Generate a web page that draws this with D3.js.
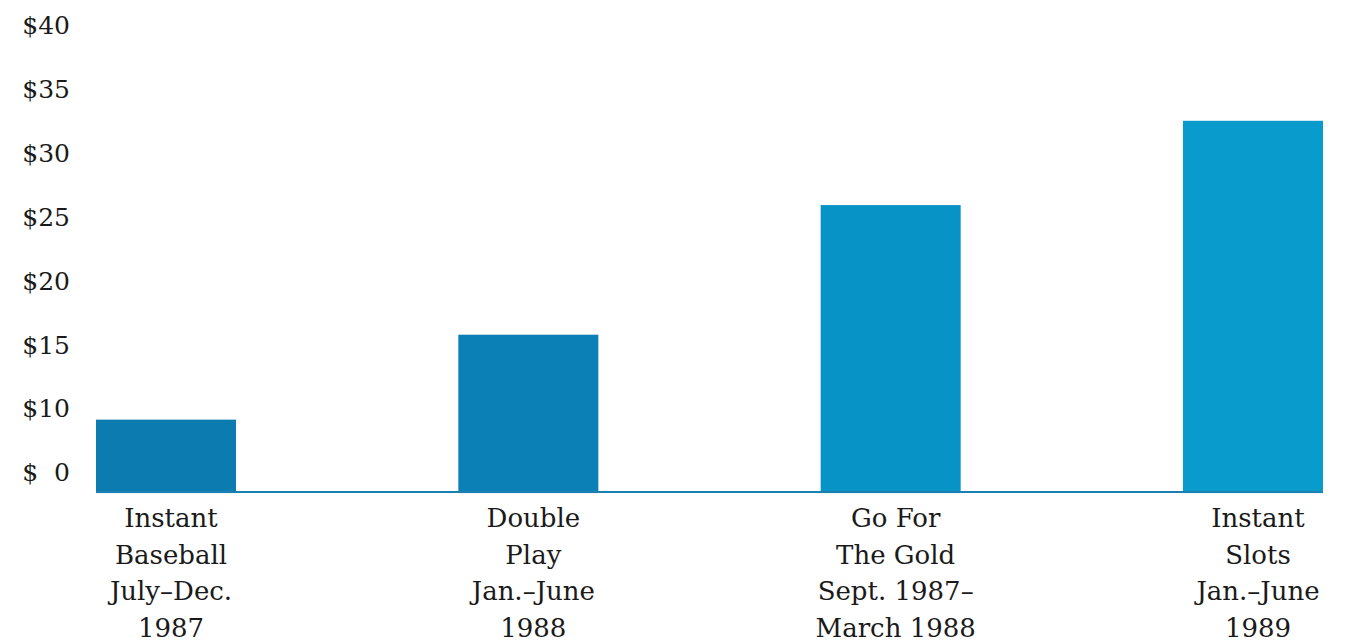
<!DOCTYPE html>
<html>
<head>
<meta charset="utf-8">
<script src="https://cdn.jsdelivr.net/npm/d3@7"></script>
<style>
  html, body { margin: 0; padding: 0; background: #ffffff; }
  svg { display: block; }
  text { font-family: "DejaVu Serif", "Liberation Serif", serif; fill: #1a1a1a; }
</style>
</head>
<body>
<svg id="chart" width="1356" height="643"></svg>
<script>
// ---- data (values read in the units of the printed axis) ----
const categories = ["Instant Baseball", "Double Play", "Go For The Gold", "Instant Slots"];
const categoryLines = [
  ["Instant", "Baseball", "July\u2013Dec.", "1987"],
  ["Double", "Play", "Jan.\u2013June", "1988"],
  ["Go For", "The Gold", "Sept. 1987\u2013", "March 1988"],
  ["Instant", "Slots", "Jan.\u2013June", "1989"]
];
const values = [9.1, 15.75, 25.9, 32.5];
const barColors = ["#0b7bb0", "#0a80b6", "#0893c7", "#0a9bcd"];
const tickValues = [5, 10, 15, 20, 25, 30, 35, 40];
const tickLabels = ["$  0", "$10", "$15", "$20", "$25", "$30", "$35", "$40"];
const axisFloor = 3.35; // value where the printed baseline sits

// ---- scales ----
const svg = d3.select("#chart");
const y = d3.scaleLinear().domain([5, 40]).range([472, 25]);
const x = d3.scaleBand().domain(categories).range([96, 1323]).paddingInner(0.6136).paddingOuter(0);

// ---- y tick labels ----
const yAxis = d3.axisLeft(y).tickValues(tickValues)
  .tickFormat((d, i) => tickLabels[i]).tickSize(0).tickPadding(0);
const gy = svg.append("g").attr("transform", "translate(70,0)").call(yAxis);
gy.select(".domain").remove();
gy.selectAll("text")
  .attr("font-family", "DejaVu Serif, serif")
  .attr("font-size", 25)
  .attr("fill", "#1a1a1a")
  .style("white-space", "pre")
  .attr("dy", "0.35em");

// ---- bars ----
svg.append("g").selectAll("rect").data(values).join("rect")
  .attr("x", (d, i) => x(categories[i]))
  .attr("width", x.bandwidth())
  .attr("y", d => y(d))
  .attr("height", d => y(axisFloor) - y(d))
  .attr("fill", (d, i) => barColors[i]);

// ---- baseline ----
svg.append("line")
  .attr("x1", x(categories[0]))
  .attr("x2", x(categories[categories.length - 1]) + x.bandwidth())
  .attr("y1", y(axisFloor) - 1).attr("y2", y(axisFloor) - 1)
  .attr("stroke", "#1b7fb2").attr("stroke-width", 2);

// ---- category labels ----
const gx = svg.append("g");
categoryLines.forEach((lines, i) => {
  const cx = x(categories[i]) + x.bandwidth() / 2 + 5;
  const t = gx.append("text").attr("text-anchor", "middle").attr("font-size", 26);
  lines.forEach((ln, j) => {
    t.append("tspan").attr("x", cx).attr("y", 527 + j * 36.5).text(ln);
  });
});
</script>
</body>
</html>
